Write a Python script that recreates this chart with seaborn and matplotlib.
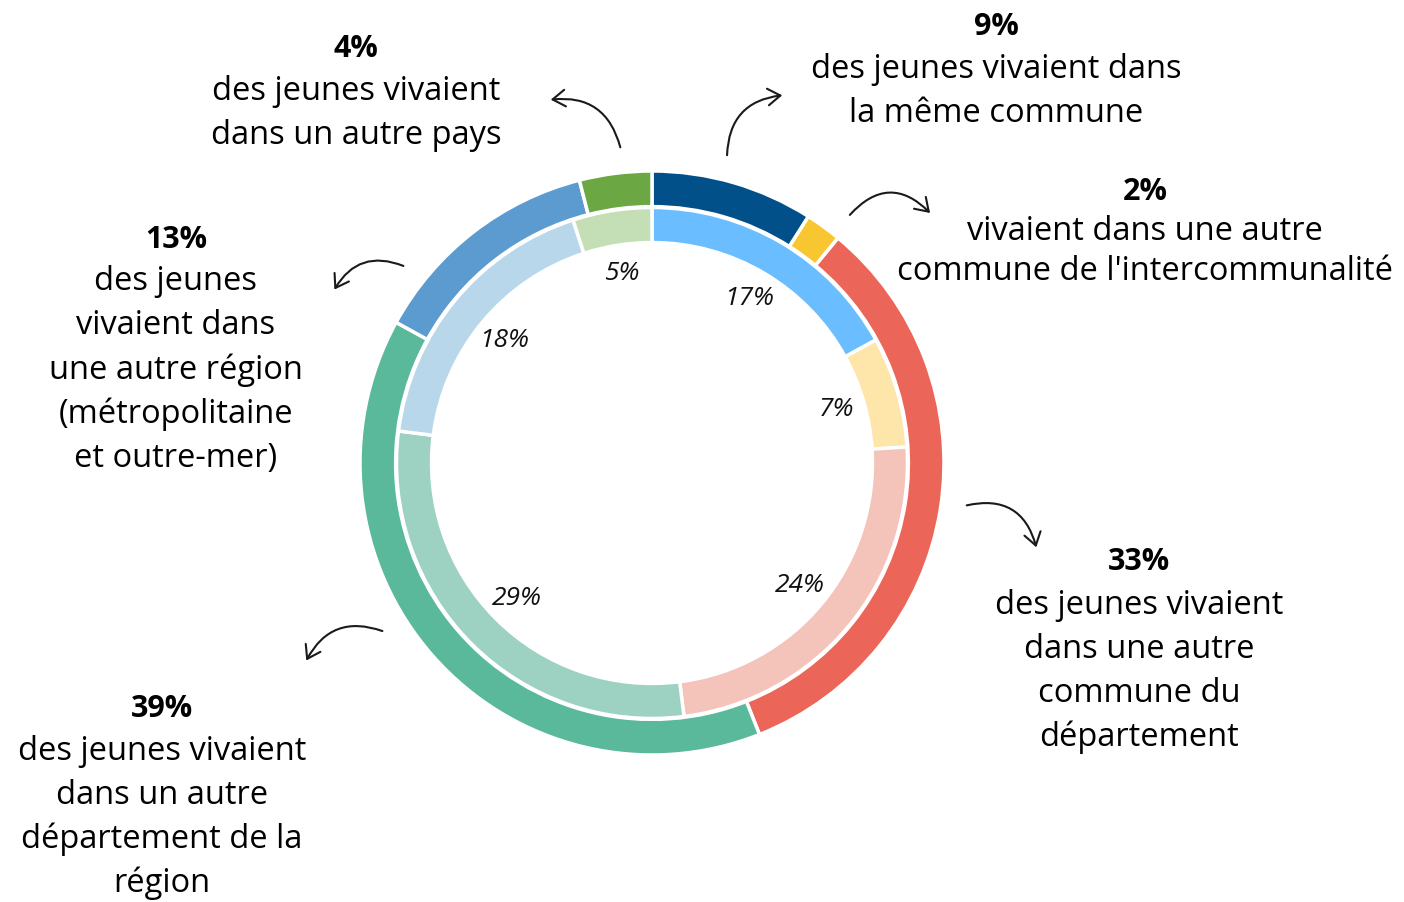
import matplotlib
matplotlib.use("Agg")
import matplotlib.pyplot as plt
import seaborn as sns

# ---- data ----
outer_values = [9, 2, 33, 39, 13, 4]
outer_colors = ["#02508A", "#F8C630", "#EB6658", "#5BB99B", "#5B9BD0", "#6BA843"]
inner_values = [17, 7, 24, 29, 18, 5]
inner_colors = ["#6ABDFE", "#FEE5AA", "#F4C3BA", "#9DD2C2", "#B8D7EB", "#C4DFB6"]

callout_pcts = ["9%", "2%", "33%", "39%", "13%", "4%"]
callout_texts = [
    "des jeunes vivaient dans\nla même commune",
    "vivaient dans une autre\ncommune de l'intercommunalité",
    "des jeunes vivaient\ndans une autre\ncommune du\ndépartement",
    "des jeunes vivaient\ndans un autre\ndépartement de la\nrégion",
    "des jeunes\nvivaient dans\nune autre région\n(métropolitaine\net outre-mer)",
    "des jeunes vivaient\ndans un autre pays",
]

sns.set_theme(style="white")
plt.rcParams["font.family"] = ["Open Sans", "DejaVu Sans"]

W, H = 1404, 902
fig = plt.figure(figsize=(W / 100, H / 100), dpi=100)
fig.patch.set_facecolor("white")

cx, cy, R = 652, H - 463, 292
ax = fig.add_axes([(cx - R) / W, (cy - R) / H, 2 * R / W, 2 * R / H])

ax.pie(outer_values, colors=outer_colors, radius=1.0, startangle=90,
       counterclock=False,
       wedgeprops=dict(width=0.122, edgecolor="white", linewidth=2.5))
ax.pie(inner_values, colors=inner_colors, radius=0.875, startangle=90,
       counterclock=False,
       labels=None, autopct=lambda p: f"{p:.0f}%", pctdistance=0.75,
       textprops=dict(fontsize=19, style="italic", color="#111111"),
       wedgeprops=dict(width=0.12, edgecolor="white", linewidth=2.5))
ax.set_xlim(-1, 1)
ax.set_ylim(-1, 1)
ax.set_aspect("equal")
ax.axis("off")

# ---- callouts (pixel positions from top-left) ----
# (center x, y of pct, y of first body line, line spacing)
callout_pos = [
    (996, 27, 70, 44),
    (1145, 192, 231, 40),
    (1139, 562, 605, 44),
    (162, 709, 751, 44),
    (176, 240, 282, 44),
    (356, 49, 92, 44),
]
for pct, txt, (x, yp, yl, ls) in zip(callout_pcts, callout_texts, callout_pos):
    fig.text(x / W, 1 - yp / H, pct, ha="center", va="center",
             fontsize=22, fontweight="bold", color="black")
    for i, line in enumerate(txt.split("\n")):
        fig.text(x / W, 1 - (yl + i * ls) / H, line, ha="center", va="center",
                 fontsize=23.5, color="black")

# ---- curved arrows ----
arrows = [
    ((727, 158), (785, 95), -0.45),
    ((848, 217), (932, 215), -0.55),
    ((964, 506), (1037, 550), -0.5),
    ((385, 632), (305, 663), 0.45),
    ((406, 267), (333, 292), 0.45),
    ((621, 150), (548, 100), 0.45),
]
for (x0, y0), (x1, y1), rad in arrows:
    fig.add_artist(matplotlib.patches.FancyArrowPatch(
        (x0 / W, 1 - y0 / H), (x1 / W, 1 - y1 / H),
        transform=fig.transFigure,
        arrowstyle="->,head_length=9,head_width=6",
        connectionstyle=f"arc3,rad={rad}",
        color="#1a1a1a", lw=1.5, mutation_scale=1))

fig.savefig("out.png", dpi=100, facecolor="white")
